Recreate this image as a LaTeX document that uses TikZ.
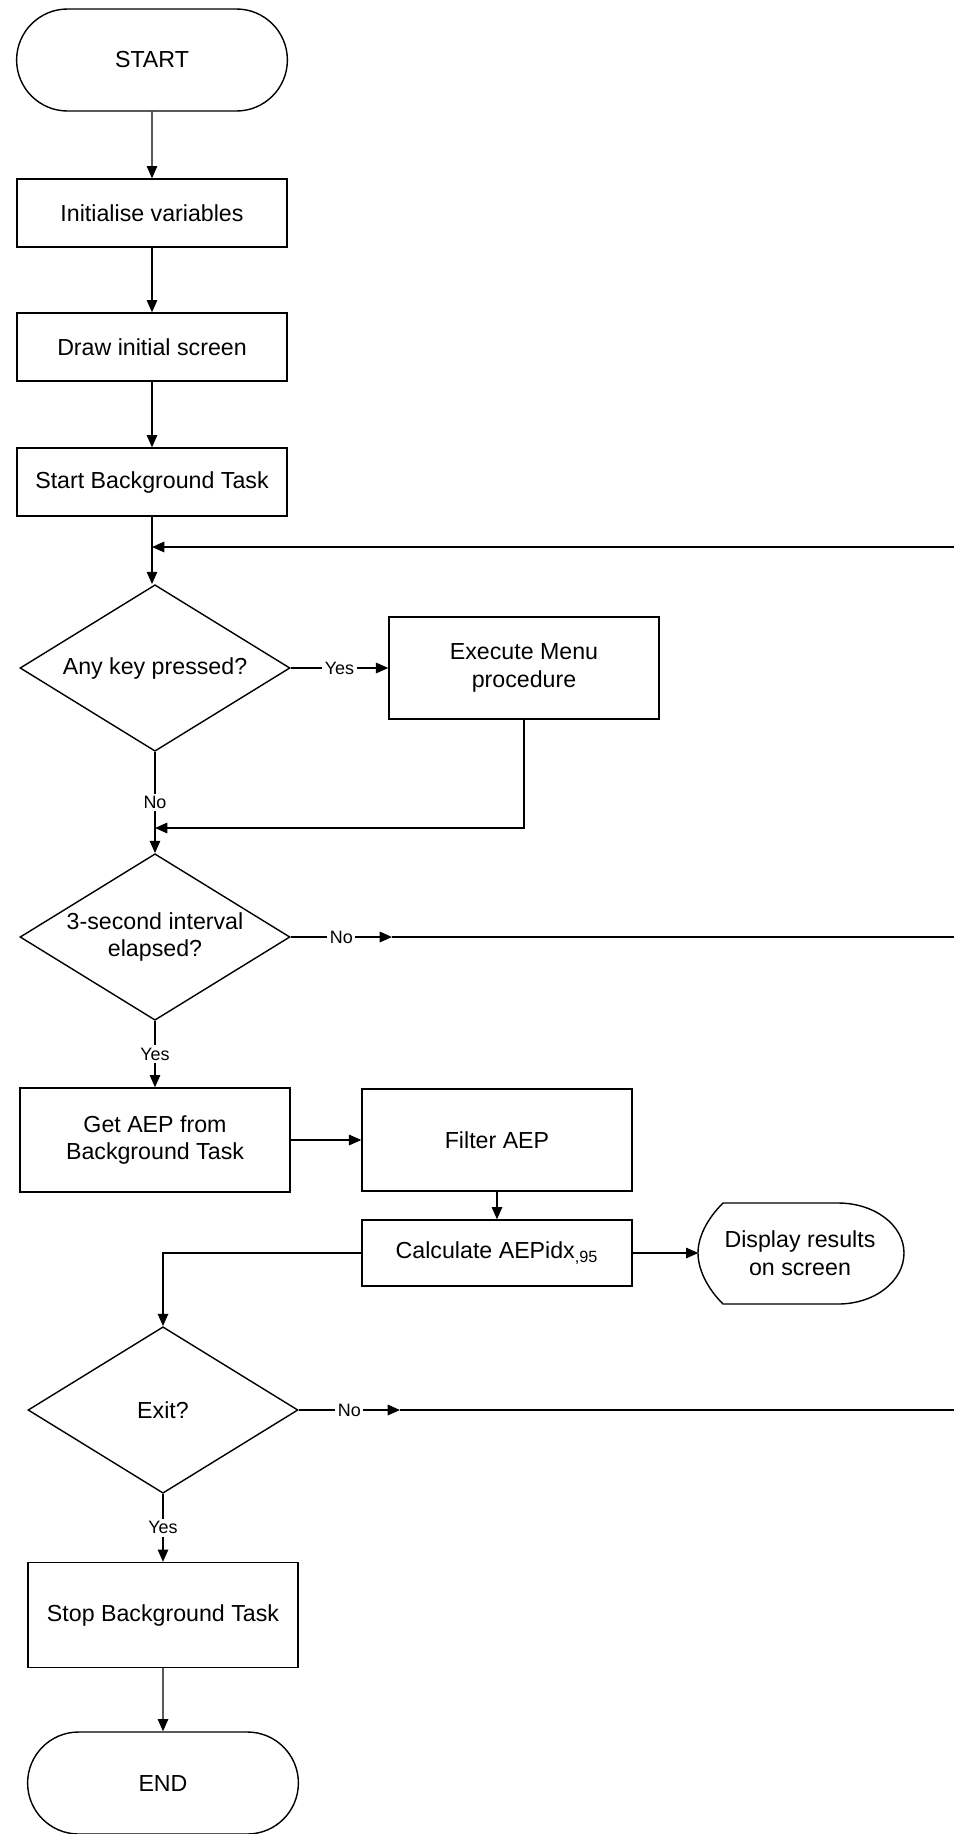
\documentclass[tikz,border=0pt]{standalone}
\usepackage{fontspec}
\setmainfont{Liberation Sans}
\usetikzlibrary{arrows.meta, shapes.geometric, shapes.misc}

\begin{document}
\begin{tikzpicture}[>={Triangle[length=7pt, width=6pt]}, line width=0.8pt,
  font=\fontsize{13.2}{15.8}\selectfont,
  term/.style={draw, rounded rectangle, minimum width=5.65cm, minimum height=2.04cm},
  proc/.style={draw, rectangle, align=center, minimum width=5.4cm, minimum height=1.36cm},
  decide/.style={draw, diamond, aspect=1.62, align=center, inner sep=0pt,
    minimum width=5.4cm, minimum height=3.33cm},
  lbl/.style={fill=white, inner sep=1.5pt, font=\fontsize{10.2}{12}\selectfont}]
  \useasboundingbox (0,0) rectangle (19.08,-36.68);

  % Main column
  \node[term] (start) at (3.04,-1.2) {START};
  \node[proc] (init) at (3.04,-4.26) {Initialise variables};
  \node[proc] (scr) at (3.04,-6.94) {Draw initial screen};
  \node[proc] (bgstart) at (3.04,-9.64) {Start Background Task};
  \node[decide] (key) at (3.1,-13.36) {Any key pressed?};
  \node[proc, minimum height=2.04cm] (menu) at (10.48,-13.36) {Execute Menu\\procedure};
  \node[decide] (intv) at (3.1,-18.74) {3-second interval\\elapsed?};
  \node[proc, minimum height=2.08cm] (getaep) at (3.1,-22.8) {Get AEP from\\Background Task};
  \node[proc, minimum height=2.04cm] (filt) at (9.94,-22.8) {Filter AEP};
  \node[proc, minimum height=1.32cm] (aepidx) at (9.94,-25.06) {Calculate AEPidx\textsubscript{,95}};
  \node[minimum width=4.04cm, minimum height=2.02cm, align=center] (disp) at (16.0,-25.06) {Display results\\on screen};
  \node[decide] (quit) at (3.26,-28.2) {Exit?};
  \node[proc, minimum height=2.1cm] (bgstop) at (3.26,-32.3) {Stop Background Task};
  \node[term] (stop) at (3.26,-35.66) {END};

  % display symbol outline
  \draw[shift={(disp.center)}] (-1.54,1.0) -- (0.76,1.0)
    .. controls (1.5,1.0) and (2.08,0.55) .. (2.08,0)
    .. controls (2.08,-0.56) and (1.5,-1.02) .. (0.76,-1.02)
    -- (-1.54,-1.02)
    .. controls (-1.88,-0.68) and (-2.04,-0.3) .. (-2.04,0)
    .. controls (-2.04,0.3) and (-1.88,0.66) .. (-1.54,1.0) -- cycle;

  % loop ends running off to the right
  \coordinate (loopR) at (19.08,-10.94);
  \coordinate (merge) at (3.1,-16.56);
  \coordinate (noA) at (7.84,-18.74);
  \coordinate (noAend) at (19.08,-18.74);
  \coordinate (noB) at (8.0,-28.2);
  \coordinate (noBend) at (19.08,-28.2);

  \draw[->] (start) -- (init);
  \draw[->] (init) -- (scr);
  \draw[->] (scr) -- (bgstart);
  \draw[->] (bgstart.south) -- (bgstart.south |- key.north);
  \draw[->] (loopR) -- (loopR -| bgstart.south);
  \draw[->] (key) -- node[lbl] {Yes} (menu);
  \draw[->] (key) -- node[lbl] {No} (intv);
  \draw[->] (menu.south) |- (merge);
  \draw[->] (intv) -- node[lbl] {No} (noA);
  \draw (noA) -- (noAend);
  \draw[->] (intv) -- node[lbl] {Yes} (getaep);
  \draw[->] (getaep) -- (filt);
  \draw[->] (filt) -- (aepidx);
  \draw[->] (aepidx) -- (disp);
  \draw[->] (aepidx.west) -| (quit.north);
  \draw[->] (quit) -- node[lbl] {No} (noB);
  \draw (noB) -- (noBend);
  \draw[->] (quit) -- node[lbl] {Yes} (bgstop);
  \draw[->] (bgstop) -- (stop);
\end{tikzpicture}
\end{document}
